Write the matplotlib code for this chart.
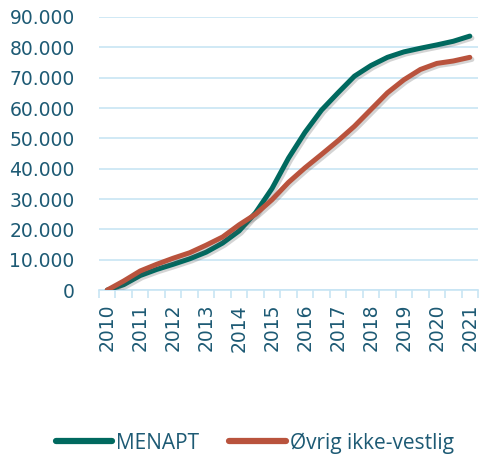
import numpy as np
import matplotlib
matplotlib.use("Agg")
import matplotlib.pyplot as plt
import matplotlib.patheffects as pe
from matplotlib.ticker import FuncFormatter

# halvårlige observasjoner 2010 - 2021
periods = ["2010", "", "2011", "", "2012", "", "2013", "", "2014", "", "2015", "",
           "2016", "", "2017", "", "2018", "", "2019", "", "2020", "", "2021"]
menapt = [0, 1800, 4800, 6800, 8500, 10300, 12500, 15500, 19500, 25500, 33500, 43500,
          52000, 59300, 65000, 70500, 74000, 76700, 78500, 79700, 80800, 82000, 83700]
ovrig = [0, 3000, 6300, 8500, 10500, 12300, 14800, 17500, 21500, 25000, 29800, 35500,
         40300, 44700, 49200, 54000, 59500, 65000, 69300, 72700, 74700, 75500, 76700]
series_names = ["MENAPT", "Øvrig ikke-vestlig"]

TEAL = "#00695f"
RED = "#b9533d"
TXT = "#1d5a74"
GRID = "#c8e5f4"

fig = plt.figure(figsize=(4.79, 4.59), dpi=100)
ax = fig.add_axes([0.2067, 0.368, 0.7913, 0.595])

x = np.arange(len(periods))
shadow = [pe.SimpleLineShadow(offset=(1.5, -1.5), alpha=0.25, shadow_color="#555555"), pe.Normal()]
ax.plot(x, menapt, color=TEAL, lw=3.6, solid_capstyle="round", solid_joinstyle="round",
        label=series_names[0], path_effects=shadow, zorder=3)
ax.plot(x, ovrig, color=RED, lw=3.6, solid_capstyle="round", solid_joinstyle="round",
        label=series_names[1], path_effects=shadow, zorder=4)

ax.set_xlim(-0.5, len(periods) - 0.5)
ax.set_ylim(0, 90000)
ax.set_yticks(np.arange(0, 90001, 10000))
ax.yaxis.set_major_formatter(FuncFormatter(lambda v, p: f"{int(v):,}".replace(",", ".")))
ax.grid(axis="y", color=GRID, lw=1.2, zorder=0)
ax.set_axisbelow(True)

major = [i for i, p in enumerate(periods) if p]
ax.set_xticks(major)
ax.set_xticklabels([periods[i] for i in major], rotation=90)
ax.set_xticks(np.arange(-0.5, len(periods), 1), minor=True)
ax.tick_params(axis="x", which="major", length=0, pad=10, labelsize=13.5, labelcolor=TXT)
ax.tick_params(axis="x", which="minor", length=6, width=1.2, color=GRID)
ax.tick_params(axis="y", length=0, pad=17.5, labelsize=13.5, labelcolor=TXT)

for s in ["top", "right", "left"]:
    ax.spines[s].set_visible(False)
ax.spines["bottom"].set_color(GRID)
ax.spines["bottom"].set_linewidth(1.2)

leg = fig.legend(loc="center", bbox_to_anchor=(0.532, 0.035), ncol=2, frameon=False,
                 handlelength=2.7, handletextpad=0.2, columnspacing=1.45,
                 prop={"family": "Open Sans", "size": 15})
for t in leg.get_texts():
    t.set_color(TXT)
for h in leg.legend_handles:
    h.set_linewidth(4.5)
    h.set_path_effects([])

fig.savefig("out.png", dpi=100)
